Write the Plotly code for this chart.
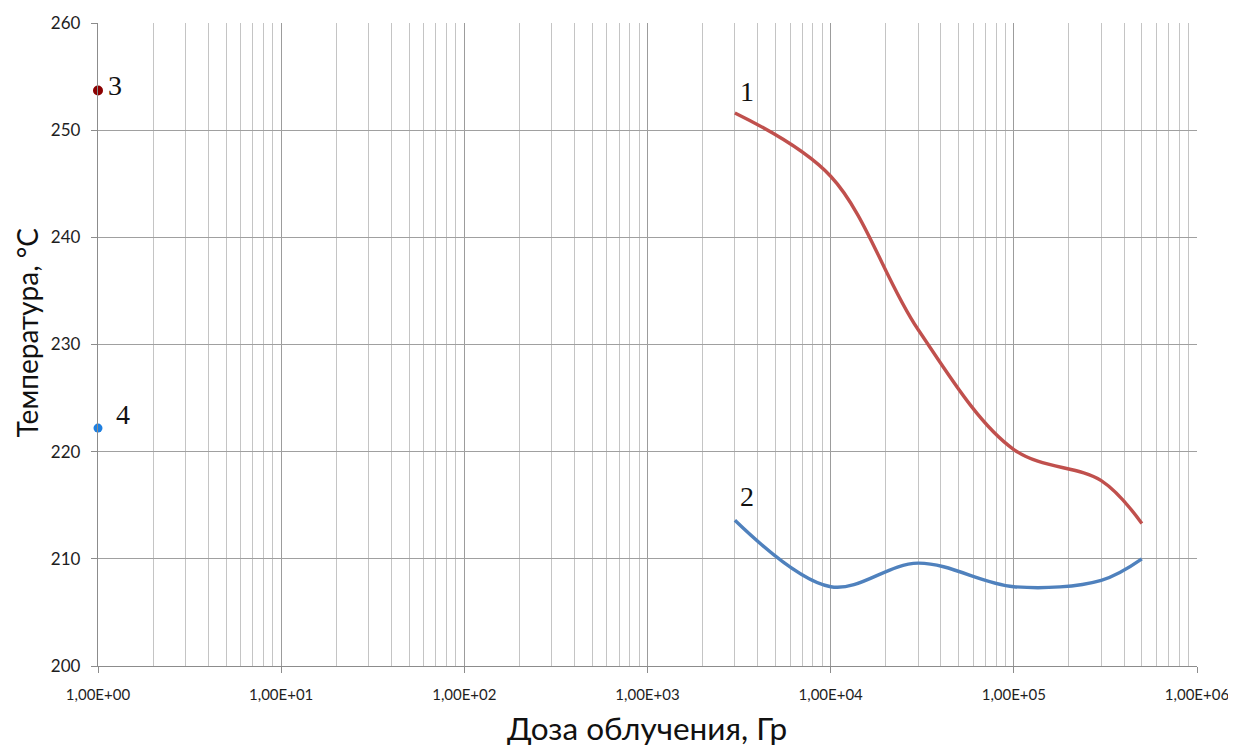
import plotly.graph_objects as go

# Data
dose = [3e3, 1e4, 3e4, 1e5, 3e5, 5e5]
temp_1 = [251.6, 245.7, 231.4, 220.2, 217.3, 213.3]
temp_2 = [213.6, 207.4, 209.6, 207.4, 208.0, 210.0]
point3_x, point3_y = [1.0], [253.7]
point4_x, point4_y = [1.0], [222.2]

x_tickvals = [1e0, 1e1, 1e2, 1e3, 1e4, 1e5, 1e6]
x_ticktext = ["1,00E+00", "1,00E+01", "1,00E+02", "1,00E+03", "1,00E+04", "1,00E+05", "1,00E+06"]
y_tickvals = [200, 210, 220, 230, 240, 250, 260]

minor_vals = [m * 10 ** d for d in range(6) for m in range(2, 10)]

label_font = dict(family="Liberation Serif, Times New Roman, serif", size=28, color="#111")
xtick_font = dict(size=15, family="Lato, sans-serif", color="#1E1E1E")
ytick_font = dict(size=17, family="Lato, sans-serif", color="#1E1E1E")

fig = go.Figure()
fig.add_trace(go.Scatter(x=dose, y=temp_1, mode="lines", line=dict(color="#C0504D", width=3.4, shape="spline", smoothing=1.0), showlegend=False))
fig.add_trace(go.Scatter(x=dose, y=temp_2, mode="lines", line=dict(color="#4F81BD", width=3.4, shape="spline", smoothing=1.0), showlegend=False))
fig.add_trace(go.Scatter(x=point3_x, y=point3_y, mode="markers", marker=dict(color="#8B0000", size=10, symbol="circle"), showlegend=False, cliponaxis=False))
fig.add_trace(go.Scatter(x=point4_x, y=point4_y, mode="markers", marker=dict(color="#1E7FE0", size=9, symbol="circle"), showlegend=False, cliponaxis=False))

fig.add_annotation(x=3.544, y=253.6, xref="x", yref="y", text="1", showarrow=False, font=label_font)
fig.add_annotation(x=3.544, y=215.8, xref="x", yref="y", text="2", showarrow=False, font=label_font)
fig.add_annotation(x=0.095, y=254.2, xref="x", yref="y", text="3", showarrow=False, font=label_font)
fig.add_annotation(x=0.138, y=223.5, xref="x", yref="y", text="4", showarrow=False, font=label_font)

# Axis titles
fig.add_annotation(x=0, y=0.5, xref="paper", yref="paper", text="Температура, °С", textangle=-90,
                   showarrow=False, xanchor="center", yanchor="middle", xshift=-72, yshift=12,
                   font=dict(size=28, family="Lato, sans-serif", color="#111"))
fig.add_annotation(x=0.5, y=0, xref="paper", yref="paper", text="Доза облучения, Гр",
                   showarrow=False, xanchor="center", yanchor="middle", xshift=-1, yshift=-62,
                   font=dict(size=31.5, family="Lato, sans-serif", color="#111"))

fig.update_layout(
    width=1236, height=739,
    paper_bgcolor="white", plot_bgcolor="white",
    margin=dict(l=90, r=47, t=15, b=81, autoexpand=False),
    font=dict(family="Lato, sans-serif", color="#222"),
)
fig.update_xaxes(
    type="log", range=[0, 6],
    tickvals=x_tickvals, ticktext=x_ticktext,
    tickfont=xtick_font,
    showgrid=True, gridcolor="#9C9C9C", gridwidth=1,
    minor=dict(tickvals=minor_vals, showgrid=True, gridcolor="#C4C4C4", gridwidth=1, ticks=""),
    ticks="outside", ticklen=6, tickcolor="#8C8C8C", ticklabelstandoff=9,
    showline=True, linecolor="#8C8C8C", linewidth=1.3,
    zeroline=False,
)
fig.update_yaxes(
    range=[200, 260],
    tickvals=y_tickvals,
    tickfont=ytick_font,
    showgrid=True, gridcolor="#A0A0A0", gridwidth=1,
    ticks="outside", ticklen=6, tickcolor="#8C8C8C", ticklabelstandoff=7,
    showline=True, linecolor="#8C8C8C", linewidth=1.3,
    zeroline=False,
)

fig.write_html("out.html")
